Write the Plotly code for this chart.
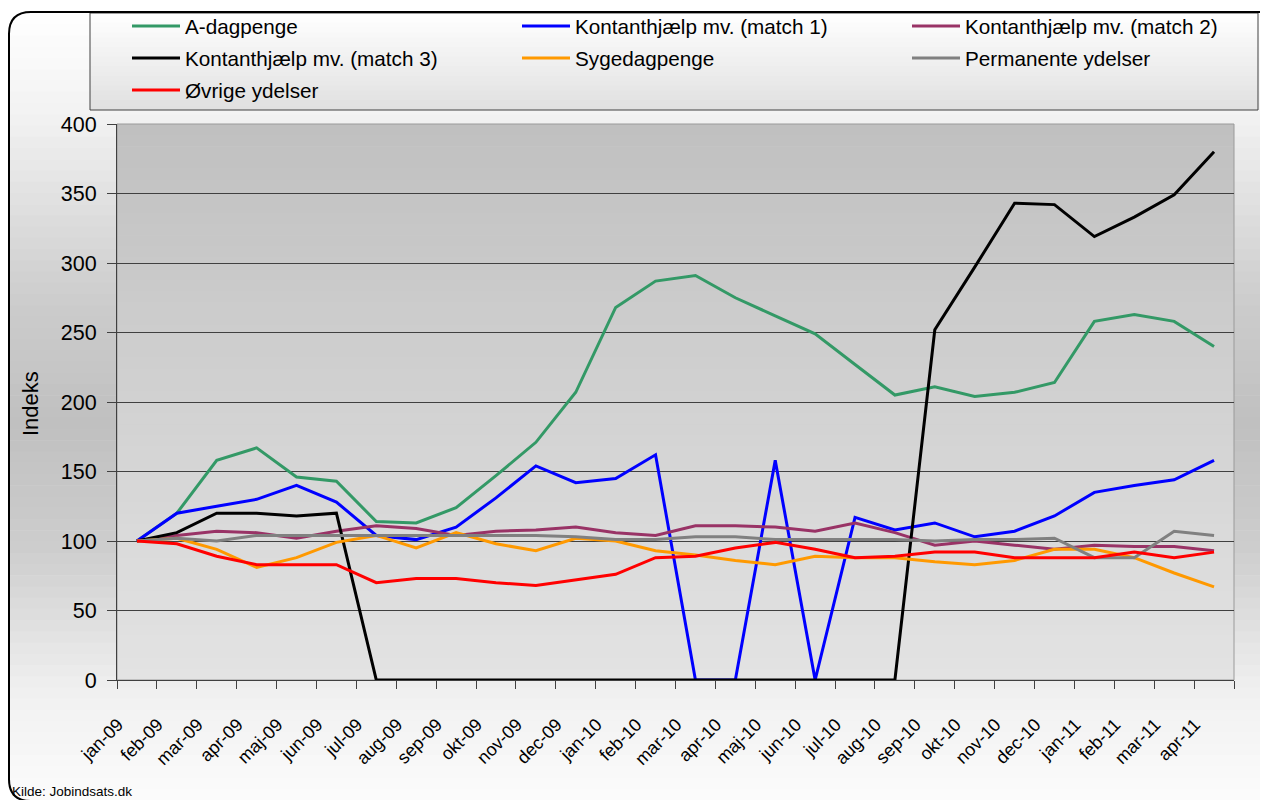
import plotly.graph_objects as go

# ---------------- data ----------------
months = ["jan-09", "feb-09", "mar-09", "apr-09", "maj-09", "jun-09", "jul-09",
          "aug-09", "sep-09", "okt-09", "nov-09", "dec-09", "jan-10", "feb-10",
          "mar-10", "apr-10", "maj-10", "jun-10", "jul-10", "aug-10", "sep-10",
          "okt-10", "nov-10", "dec-10", "jan-11", "feb-11", "mar-11", "apr-11"]

a_dagpenge = [100, 120, 158, 167, 146, 143, 114, 113, 124, 147, 171, 207, 268, 287,
              291, 275, 262, 249, 227, 205, 211, 204, 207, 214, 258, 263, 258, 240]
kontant_match1 = [100, 120, 125, 130, 140, 128, 104, 101, 110, 131, 154, 142, 145, 162,
                  0, 0, 158, 0, 117, 108, 113, 103, 107, 118, 135, 140, 144, 158]
kontant_match2 = [100, 104, 107, 106, 102, 107, 111, 109, 104, 107, 108, 110, 106, 104,
                  111, 111, 110, 107, 113, 106, 97, 100, 97, 94, 97, 96, 96, 93]
kontant_match3 = [100, 106, 120, 120, 118, 120, 0, 0, 0, 0, 0, 0, 0, 0,
                  0, 0, 0, 0, 0, 0, 252, 297, 343, 342, 319, 333, 349, 380]
sygedagpenge = [100, 102, 94, 81, 88, 99, 104, 95, 106, 98, 93, 102, 100, 93,
                90, 86, 83, 89, 88, 88, 85, 83, 86, 94, 94, 88, 77, 67]
permanente = [100, 102, 100, 104, 104, 104, 104, 104, 104, 104, 104, 103, 101, 101,
              103, 103, 101, 101, 101, 101, 100, 101, 101, 102, 88, 88, 107, 104]
ovrige = [100, 98, 89, 83, 83, 83, 70, 73, 73, 70, 68, 72, 76, 88,
          89, 95, 99, 94, 88, 89, 92, 92, 88, 88, 88, 92, 88, 92]

series_names = ["A-dagpenge", "Kontanthjælp mv. (match 1)", "Kontanthjælp mv. (match 2)",
                "Kontanthjælp mv. (match 3)", "Sygedagpenge", "Permanente ydelser",
                "Øvrige ydelser"]
series_values = [a_dagpenge, kontant_match1, kontant_match2, kontant_match3,
                 sygedagpenge, permanente, ovrige]
series_colors = ["#339966", "#0000FF", "#993366", "#000000", "#FF9900", "#808080",
                 "#FF0000"]
legend_rows = ["legend", "legend", "legend", "legend2", "legend2", "legend2", "legend3"]

y_ticks = [0, 50, 100, 150, 200, 250, 300, 350, 400]

# ---------------- layout geometry ----------------
# The page body has an 8px margin; reference pixel coords are converted accordingly.
OFF = 8
W, H = 1268 - OFF, 800 - OFF
PL, PR, PT, PB = 117, 1234, 124, 680          # plot area in reference pixels
L, R, T, B = PL - OFF, W - (PR - OFF), PT - OFF, H - (PB - OFF)
PW, PH = PR - PL, PB - PT
FONT = "Liberation Sans, Arial, sans-serif"


def px(xr):
    return (xr - PL) / PW


def py(yr):
    return (PB - yr) / PH


def lerp_gray(stops, t):
    for (t0, c0), (t1, c1) in zip(stops, stops[1:]):
        if t0 <= t <= t1:
            f = 0 if t1 == t0 else (t - t0) / (t1 - t0)
            return round(c0 + (c1 - c0) * f)
    return stops[-1][1]


shapes = []


def gradient(x0, x1, y0, y1, stops, n):
    for i in range(n):
        ya = y0 + (y1 - y0) * i / n
        yb = min(y0 + (y1 - y0) * (i + 1) / n + 0.6, y1)
        g = lerp_gray(stops, (i + 0.5) / n)
        shapes.append(dict(type="rect", xref="paper", yref="paper",
                           x0=px(x0), x1=px(x1), y0=py(ya), y1=py(yb),
                           line=dict(width=0), fillcolor=f"rgb({g},{g},{g})",
                           layer="below"))


# chart-area background inside the rounded frame
FX0, FY0, FX1, FY1, RAD = 9, 12, 1282, 801, 22
gradient(FX0 + 1, 1268, FY0 + 1, 800,
         [(0.0, 255), (0.13, 242), (0.36, 205), (0.52, 192), (0.68, 205),
          (0.86, 240), (1.0, 252)], 70)

# plot-area gradient
gradient(PL, PR, PT, PB, [(0.0, 192), (1.0, 227)], 50)

# legend box gradient
LX0, LY0, LX1, LY1 = 90, 13, 1258, 110
gradient(LX0, LX1, LY0, LY1, [(0.0, 255), (1.0, 224)], 20)
shapes.append(dict(type="rect", xref="paper", yref="paper",
                   x0=px(LX0), x1=px(LX1), y0=py(LY0), y1=py(LY1),
                   line=dict(color="#404040", width=1), fillcolor="rgba(0,0,0,0)",
                   layer="below"))

# plot-area outline
shapes.append(dict(type="rect", xref="paper", yref="paper", x0=0, x1=1, y0=0, y1=1,
                   line=dict(color="#9a9a9a", width=1), fillcolor="rgba(0,0,0,0)",
                   layer="below"))


# rounded frame
def P(x, y):
    return f"{px(x):.6f},{py(y):.6f}"


frame = (f"M{P(FX0 + RAD, FY0)} L{P(FX1 - RAD, FY0)} Q{P(FX1, FY0)} {P(FX1, FY0 + RAD)} "
         f"L{P(FX1, FY1 - RAD)} Q{P(FX1, FY1)} {P(FX1 - RAD, FY1)} "
         f"L{P(FX0 + RAD, FY1)} Q{P(FX0, FY1)} {P(FX0, FY1 - RAD)} "
         f"L{P(FX0, FY0 + RAD)} Q{P(FX0, FY0)} {P(FX0 + RAD, FY0)} Z")
shapes.append(dict(type="path", xref="paper", yref="paper", path=frame,
                   line=dict(color="#000000", width=2), fillcolor="rgba(0,0,0,0)",
                   layer="above"))

# ---------------- figure ----------------
fig = go.Figure()
for name, vals, color, lg in zip(series_names, series_values, series_colors, legend_rows):
    fig.add_trace(go.Scatter(x=months, y=vals, mode="lines", name=name, legend=lg,
                             line=dict(color=color, width=3)))

LEG_BW = 12


def legend_row(yr):
    return dict(orientation="h", x=px(132 - 5 - LEG_BW), y=py(yr),
                xanchor="left", yanchor="middle",
                entrywidth=327, entrywidthmode="pixels", itemwidth=48,
                font=dict(size=20.7, family=FONT), bgcolor="rgba(0,0,0,0)",
                borderwidth=LEG_BW, bordercolor="rgba(0,0,0,0)")


fig.update_layout(
    width=W, height=H,
    margin=dict(l=L, r=R, t=T, b=B, autoexpand=False),
    paper_bgcolor="#ffffff",
    plot_bgcolor="rgba(0,0,0,0)",
    font=dict(family=FONT, color="#000000"),
    shapes=shapes,
    showlegend=True,
    legend=legend_row(26),
    legend2=legend_row(58),
    legend3=legend_row(90),
    xaxis=dict(type="category", categoryorder="array", categoryarray=months,
               range=[-0.5, len(months) - 0.5], tickson="boundaries",
               ticks="outside", ticklen=8, tickcolor="#404040", tickwidth=1,
               showline=True, linecolor="#404040", linewidth=1,
               showgrid=False, tickangle=-45, tickfont=dict(size=18),
               ticklabelshift=-19, ticklabelstandoff=26),
    yaxis=dict(range=[0, 400], tickmode="array", tickvals=y_ticks,
               ticks="outside", ticklen=9, tickcolor="#404040", tickwidth=1,
               showline=True, linecolor="#404040", linewidth=1,
               showgrid=True, gridcolor="#404040", gridwidth=1, zeroline=False,
               tickfont=dict(size=21.5), ticklabelstandoff=6),
    annotations=[
        dict(text="Indeks", xref="paper", yref="paper", x=px(30), y=py(404),
             xanchor="center", yanchor="middle", textangle=-90, showarrow=False,
             font=dict(size=22, family=FONT)),
        dict(text="Kilde: Jobindsats.dk", xref="paper", yref="paper", x=px(10),
             y=py(791), xanchor="left", yanchor="middle", showarrow=False,
             font=dict(size=13.5, family=FONT)),
    ],
)

fig.write_html("out.html")
